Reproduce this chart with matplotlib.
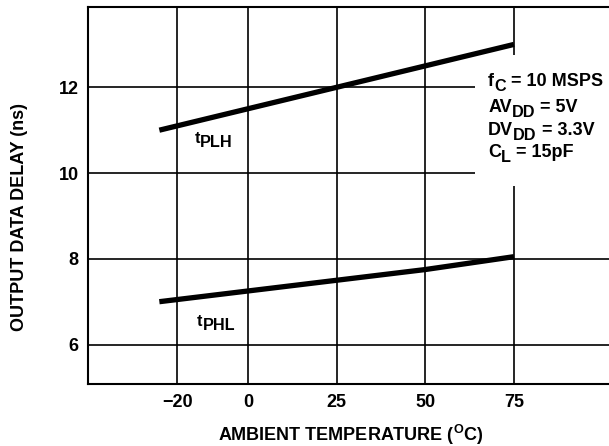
import matplotlib
matplotlib.use("Agg")
import matplotlib.pyplot as plt
from matplotlib.patches import Rectangle

plt.rcParams['font.family'] = ['Liberation Sans', 'DejaVu Sans']
plt.rcParams['font.weight'] = 'bold'
plt.rcParams['mathtext.fontset'] = 'custom'
plt.rcParams['mathtext.rm'] = 'Liberation Sans:bold'
plt.rcParams['mathtext.bf'] = 'Liberation Sans:bold'
plt.rcParams['mathtext.it'] = 'Liberation Sans:bold'

# data
temps = [-25, 0, 25, 50, 75]
t_plh = [11.0, 11.5, 12.0, 12.5, 13.0]
t_phl = [7.0, 7.25, 7.5, 7.75, 8.05]

x_ticks = [-20, 0, 25, 50, 75]
y_ticks = [6, 8, 10, 12]

FS = 13

fig = plt.figure(figsize=(6.09, 4.46), dpi=100)
ax = fig.add_axes([0.1452, 0.138, 0.8734, 0.847])

ax.set_xlim(-45, 105)
ax.set_ylim(5.07, 13.88)
ax.set_xticks(x_ticks)
ax.set_yticks(y_ticks)
ax.tick_params(length=0, labelsize=FS, pad=7)
for lbl in ax.get_xticklabels() + ax.get_yticklabels():
    lbl.set_fontweight('bold')
ax.grid(True, color='black', linewidth=1.2)
ax.set_axisbelow(True)
for s in ax.spines.values():
    s.set_linewidth(1.5)

# white box behind the conditions text
ax.add_patch(Rectangle((64, 9.7), 45, 3.05, facecolor='white',
                       edgecolor='none', zorder=2))

ax.plot(temps, t_plh, color='black', linewidth=3.8, solid_capstyle='butt', zorder=3)
ax.plot(temps, t_phl, color='black', linewidth=3.8, solid_capstyle='butt', zorder=3)


def sub_text(x, y, base, sub, rest='', fs=FS, sub_fs=FS * 0.9, drop=3):
    t0 = ax.text(x, y, base, fontsize=fs, fontweight='bold', va='baseline', zorder=4)
    t1 = ax.annotate(sub, xy=(1, 0), xycoords=t0, xytext=(0, -drop),
                     textcoords='offset points', fontsize=sub_fs,
                     fontweight='bold', va='bottom', ha='left', zorder=4)
    if rest:
        ax.annotate(rest, xy=(1, 0), xycoords=(t1, t0), fontsize=fs,
                    fontweight='bold', va='bottom', ha='left', zorder=4)


sub_text(-15, 10.70, 't', 'PLH', fs=FS * 0.9)
sub_text(-14.4, 6.43, 't', 'PHL', fs=FS * 0.9)

sub_text(67.7, 12.03, 'f', 'C', ' = 10 MSPS')
sub_text(67.7, 11.43, 'AV', 'DD', ' = 5V')
sub_text(67.7, 10.89, 'DV', 'DD', ' = 3.3V')
sub_text(67.7, 10.38, 'C', 'L', ' = 15pF')

fig.text(351 / 609, 1 - 435 / 446, r'AMBIENT TEMPERATURE ($^\mathregular{O}$C)',
         ha='center', va='center', fontsize=FS, fontweight='bold')
fig.text(20 / 609, 1 - 217 / 446, 'OUTPUT DATA DELAY (ns)', rotation=90,
         ha='center', va='center', fontsize=FS, fontweight='bold')

fig.savefig('out.png', dpi=100)
